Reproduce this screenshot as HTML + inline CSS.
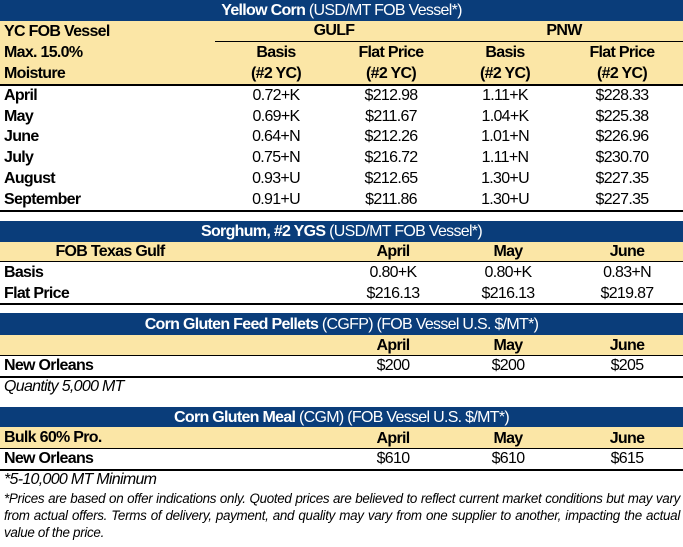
<!DOCTYPE html>
<html><head><meta charset="utf-8"><style>
body{margin:0;width:683px;height:547px;background:#fff;position:relative;overflow:hidden;font-family:"Liberation Sans Narrow","Liberation Sans",Arial,sans-serif;font-size:16px;color:#000;letter-spacing:-0.7px}
.a{position:absolute}
.nav{position:absolute;left:0;width:683px;background:#0a3d7a;color:#fff;text-align:center;font-size:16px}
.yel{position:absolute;left:0;width:683px;background:#fbe6a6}
.ln{position:absolute;left:0;width:683px;height:2px;background:#000}
.t{position:absolute;white-space:nowrap;line-height:20px}
.b{font-weight:bold}
.c{transform:translateX(-50%)}
.i{font-style:italic}
</style></head><body>
<div class="nav" style="top:0;height:21px;line-height:22px"><b>Yellow Corn</b> (USD/MT FOB Vessel*)</div>
<div class="yel" style="top:21px;height:63px"></div>
<div class="a" style="left:215px;top:41px;width:468px;height:1px;background:#000"></div>
<div class="ln" style="top:84px"></div>
<div class="t b" style="left:4px;top:22px">YC FOB Vessel</div>
<div class="t b" style="left:4px;top:43px">Max. 15.0%</div>
<div class="t b" style="left:4px;top:64px">Moisture</div>
<div class="t b c" style="left:334px;top:21px">GULF</div>
<div class="t b c" style="left:564px;top:21px">PNW</div>
<div class="t b c" style="left:276px;top:43px">Basis</div>
<div class="t b c" style="left:391px;top:43px">Flat Price</div>
<div class="t b c" style="left:505px;top:43px">Basis</div>
<div class="t b c" style="left:622px;top:43px">Flat Price</div>
<div class="t b c" style="left:276px;top:64px">(#2 YC)</div>
<div class="t b c" style="left:391px;top:64px">(#2 YC)</div>
<div class="t b c" style="left:505px;top:64px">(#2 YC)</div>
<div class="t b c" style="left:622px;top:64px">(#2 YC)</div>

<div class="t b" style="left:4px;top:86px">April</div><div class="t c" style="left:276px;top:86px">0.72+K</div><div class="t c" style="left:391px;top:86px">$212.98</div><div class="t c" style="left:505px;top:86px">1.11+K</div><div class="t c" style="left:622px;top:86px">$228.33</div>
<div class="t b" style="left:4px;top:107px">May</div><div class="t c" style="left:276px;top:107px">0.69+K</div><div class="t c" style="left:391px;top:107px">$211.67</div><div class="t c" style="left:505px;top:107px">1.04+K</div><div class="t c" style="left:622px;top:107px">$225.38</div>
<div class="t b" style="left:4px;top:127px">June</div><div class="t c" style="left:276px;top:127px">0.64+N</div><div class="t c" style="left:391px;top:127px">$212.26</div><div class="t c" style="left:505px;top:127px">1.01+N</div><div class="t c" style="left:622px;top:127px">$226.96</div>
<div class="t b" style="left:4px;top:148px">July</div><div class="t c" style="left:276px;top:148px">0.75+N</div><div class="t c" style="left:391px;top:148px">$216.72</div><div class="t c" style="left:505px;top:148px">1.11+N</div><div class="t c" style="left:622px;top:148px">$230.70</div>
<div class="t b" style="left:4px;top:169px">August</div><div class="t c" style="left:276px;top:169px">0.93+U</div><div class="t c" style="left:391px;top:169px">$212.65</div><div class="t c" style="left:505px;top:169px">1.30+U</div><div class="t c" style="left:622px;top:169px">$227.35</div>
<div class="t b" style="left:4px;top:190px">September</div><div class="t c" style="left:276px;top:190px">0.91+U</div><div class="t c" style="left:391px;top:190px">$211.86</div><div class="t c" style="left:505px;top:190px">1.30+U</div><div class="t c" style="left:622px;top:190px">$227.35</div>
<div class="ln" style="top:210px"></div>

<div class="nav" style="top:221px;height:21px;line-height:22px"><b>Sorghum, #2 YGS</b> (USD/MT FOB Vessel*)</div>
<div class="yel" style="top:242px;height:20px"></div>
<div class="ln" style="top:261px;height:1px"></div>
<div class="t b c" style="left:110px;top:242px">FOB Texas Gulf</div>
<div class="t b c" style="left:393px;top:242px">April</div><div class="t b c" style="left:508px;top:242px">May</div><div class="t b c" style="left:627px;top:242px">June</div>
<div class="t b" style="left:4px;top:263px">Basis</div><div class="t c" style="left:393px;top:263px">0.80+K</div><div class="t c" style="left:508px;top:263px">0.80+K</div><div class="t c" style="left:627px;top:263px">0.83+N</div>
<div class="t b" style="left:4px;top:284px">Flat Price</div><div class="t c" style="left:393px;top:284px">$216.13</div><div class="t c" style="left:508px;top:284px">$216.13</div><div class="t c" style="left:627px;top:284px">$219.87</div>
<div class="ln" style="top:303px"></div>

<div class="nav" style="top:313px;height:22px;line-height:23px"><b>Corn Gluten Feed Pellets</b> (CGFP) (FOB Vessel U.S. $/MT*)</div>
<div class="yel" style="top:335px;height:21px"></div>
<div class="ln" style="top:355px;height:1px"></div>
<div class="t b c" style="left:393px;top:336px">April</div><div class="t b c" style="left:508px;top:336px">May</div><div class="t b c" style="left:627px;top:336px">June</div>
<div class="t b" style="left:4px;top:356px">New Orleans</div><div class="t c" style="left:393px;top:356px">$200</div><div class="t c" style="left:508px;top:356px">$200</div><div class="t c" style="left:627px;top:356px">$205</div>
<div class="ln" style="top:376px"></div>
<div class="t i" style="left:4px;top:377px">Quantity 5,000 MT</div>

<div class="nav" style="top:407px;height:20px;line-height:21px"><b>Corn Gluten Meal</b> (CGM) (FOB Vessel U.S. $/MT*)</div>
<div class="yel" style="top:427px;height:22px"></div>
<div class="ln" style="top:448px;height:1px"></div>
<div class="t b" style="left:4px;top:428px">Bulk 60% Pro.</div>
<div class="t b c" style="left:393px;top:429px">April</div><div class="t b c" style="left:508px;top:429px">May</div><div class="t b c" style="left:627px;top:429px">June</div>
<div class="t b" style="left:4px;top:449px">New Orleans</div><div class="t c" style="left:393px;top:449px">$610</div><div class="t c" style="left:508px;top:449px">$610</div><div class="t c" style="left:627px;top:449px">$615</div>
<div class="ln" style="top:469px"></div>
<div class="t i" style="left:4px;top:470px">*5-10,000 MT Minimum</div>
<div class="a i" style="left:4px;top:490px;width:676px;font-size:13.4px;line-height:17px;text-align:justify;letter-spacing:-0.3px">*Prices are based on offer indications only. Quoted prices are believed to reflect current market conditions but may vary from actual offers. Terms of delivery, payment, and quality may vary from one supplier to another, impacting the actual value of the price.</div>
</body></html>
